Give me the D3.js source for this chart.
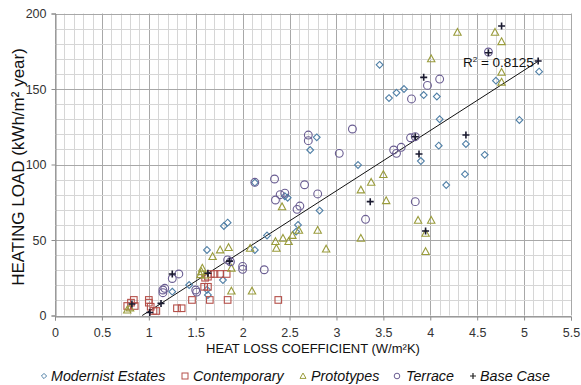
<!DOCTYPE html>
<html><head><meta charset="utf-8">
<script src="https://cdn.jsdelivr.net/npm/d3@7"></script>
<style>body{margin:0;background:#fff}svg{display:block}text{font-family:"Liberation Sans",Arial,sans-serif}</style>
</head><body><svg id="c" width="581" height="385"></svg>
<script>
const xTicks=[0,0.5,1,1.5,2,2.5,3,3.5,4,4.5,5,5.5];
const yTicks=[0,50,100,150,200];
const modernist=[[1.25,15.8],[1.43,20.2],[1.62,43.4],[1.63,13.6],[1.62,17],[1.79,23.5],[1.80,59.3],[1.84,61.5],[2.13,43.4],[2.13,88],[2.26,53],[2.45,79],[2.48,78],[2.57,55.5],[2.59,60],[2.82,69.5],[2.72,109.6],[2.79,118],[3.23,99.7],[3.46,166],[3.56,144],[3.64,147.5],[3.72,150],[3.90,102.3],[3.93,146],[4.07,145],[4.09,112.5],[4.10,130],[4.17,86.4],[4.37,93.6],[4.38,113.6],[4.58,106.4],[4.70,155.5],[4.95,129.5],[5.16,161.5]];
const contemporary=[[0.77,6.3],[0.81,8.5],[0.84,10.3],[0.85,6.3],[1.00,10.3],[1.00,8.5],[1.02,5.8],[1.05,3],[1.08,3],[1.30,4.8],[1.35,4.8],[1.46,10.3],[1.59,19],[1.63,19],[1.63,25.7],[1.65,10.3],[1.70,27.5],[1.76,27.5],[1.83,27.5],[1.84,10.3],[2.38,10.3],[1.60,25],[1.66,27.5]];
const prototypes=[[0.77,3.6],[0.80,5],[1.56,29],[1.57,31.3],[1.60,26.8],[1.55,27],[1.68,39],[1.76,43.4],[1.85,45],[1.88,31.3],[1.88,16.2],[2.08,44.5],[2.10,16.2],[2.35,48.9],[2.36,44.5],[2.43,51.1],[2.42,72],[2.49,48.9],[2.53,53],[2.60,56.4],[2.80,56.4],[2.89,44],[3.26,51.1],[3.26,83.1],[3.37,88.2],[3.50,93.3],[3.53,76],[3.87,63],[3.95,54.4],[3.95,42.3],[4.01,63],[4.01,170],[4.29,187.5],[4.69,187.5],[4.76,181.3],[4.76,161],[4.76,154.5]];
const terrace=[[1.15,16.9],[1.15,15.1],[1.17,18],[1.25,24.5],[1.32,27.5],[1.50,16.9],[1.51,15.5],[1.84,36.8],[1.87,35.6],[2.00,32.5],[2.00,30.6],[2.23,30.3],[2.34,90.4],[2.35,76.5],[2.40,80],[2.45,81],[2.58,70.3],[2.61,72.5],[2.66,86.6],[2.70,119.5],[2.70,115.8],[2.80,80.5],[3.03,107.4],[3.17,123.5],[3.31,63.7],[3.61,109.6],[3.64,107.4],[3.69,111.4],[3.79,117.7],[3.84,118.4],[3.80,143.4],[3.84,75.4],[3.97,152.4],[4.10,156.6],[4.62,174.5],[2.13,88.2]];
const baseCase=[[0.82,7.6],[1.01,2],[1.13,8],[1.25,27.5],[1.63,28],[1.86,36],[3.36,75.4],[3.88,107],[3.84,118.4],[3.93,157.7],[3.95,56],[4.38,119.5],[4.62,174],[4.76,191.7],[5.15,168.5]];
const trend={slope:39.9,intercept:-37.1,xMax:5.16,r2:"0.8125"};
const legendNames=["Modernist Estates","Contemporary","Prototypes","Terrace","Base Case"];

const svg=d3.select("#c");
const L=55,R=571,T=13.5,B=315.5;
const x=d3.scaleLinear().domain([0,5.5]).range([L,R]);
const y=d3.scaleLinear().domain([0,200]).range([B,T]);
const g=svg.append("g");
g.selectAll(".vx").data(d3.range(0,56).map(i=>i/10)).join("line")
 .attr("x1",d=>Math.round(x(d))+0.5).attr("x2",d=>Math.round(x(d))+0.5).attr("y1",T).attr("y2",B)
 .attr("stroke",(d,i)=>i%5===0?"#a8a8a8":"#d6d6d6").attr("stroke-width",1);
g.selectAll(".hy").data(d3.range(0,21).map(i=>i*10)).join("line")
 .attr("y1",d=>Math.round(y(d))+0.5).attr("y2",d=>Math.round(y(d))+0.5).attr("x1",L).attr("x2",R)
 .attr("stroke",(d,i)=>i%5===0?"#a8a8a8":"#d6d6d6").attr("stroke-width",1);
const xa=svg.append("g").attr("transform",`translate(0,${Math.round(B)+0.5})`)
 .call(d3.axisBottom(x).tickValues(xTicks).tickSize(4).tickFormat(d=>d));
const ya=svg.append("g").attr("transform",`translate(${L+0.5},0)`)
 .call(d3.axisLeft(y).tickValues(yTicks).tickSize(4).tickFormat(d=>d));
[xa,ya].forEach(a=>{a.select(".domain").attr("stroke","#8c8c8c");a.selectAll(".tick line").attr("stroke","#8c8c8c");
 a.selectAll("text").attr("font-size","12.5px").attr("fill","#333").attr("font-family","Liberation Sans,Arial,sans-serif");});
xa.selectAll("text").attr("dy","1.1em");
ya.selectAll("text").attr("dx","-2");
const x0=-trend.intercept/trend.slope;
svg.append("line").attr("x1",x(x0)).attr("y1",y(0)).attr("x2",x(trend.xMax)).attr("y2",y(trend.slope*trend.xMax+trend.intercept))
 .attr("stroke","#111").attr("stroke-width",1);
const S=3.4;
function diamond(sel,c){sel.append("path").attr("d",`M0,${-S}L${S},0L0,${S}L${-S},0Z`).attr("fill","none").attr("stroke",c).attr("stroke-width",1.1);}
function square(sel,c){sel.append("rect").attr("x",-3.3).attr("y",-3.3).attr("width",6.6).attr("height",6.6).attr("fill","none").attr("stroke",c).attr("stroke-width",1.1);}
function tri(sel,c){sel.append("path").attr("d","M0,-3.9L3.7,2.9L-3.7,2.9Z").attr("fill","none").attr("stroke",c).attr("stroke-width",1.1);}
function circ(sel,c){sel.append("circle").attr("r",3.9).attr("fill","none").attr("stroke",c).attr("stroke-width",1.1);}
function plus(sel,c){sel.append("path").attr("d","M-3.5,0H3.5M0,-3.5V3.5").attr("stroke",c).attr("stroke-width",1.6);}
const series=[[modernist,diamond,"#4f7fa6"],[contemporary,square,"#b5504a"],[prototypes,tri,"#9a9c3c"],[terrace,circ,"#6a5d92"],[baseCase,plus,"#1a1a30"]];
series.forEach(([data,fn,c])=>{
  svg.append("g").selectAll("g").data(data).join("g").attr("transform",d=>`translate(${x(d[0])},${y(d[1])})`).each(function(){fn(d3.select(this),c);});
});
const rl=svg.append("text").attr("x",463).attr("y",67).attr("font-size","13.5px").attr("fill","#111");
rl.append("tspan").text("R");rl.append("tspan").text("2").attr("font-size","8px").attr("dy","-5");
rl.append("tspan").text(" = "+trend.r2).attr("dy","5");
svg.append("text").attr("transform","translate(24,167) rotate(-90)").attr("text-anchor","middle").attr("font-size","17px").attr("fill","#111").text("HEATING LOAD (kWh/m² year)");
svg.append("text").attr("x",313).attr("y",353).attr("text-anchor","middle").attr("font-size","13px").attr("fill","#111").text("HEAT LOSS COEFFICIENT (W/m²K)");
const lx=[[44,51],[185,193],[303,311],[397,406],[473,480]];
legendNames.forEach((n,i)=>{
  const gg=svg.append("g").attr("transform",`translate(${lx[i][0]},376)`);
  const c=series[i][2];
  if(i===0)gg.append("path").attr("d","M0,-2.6L2.6,0L0,2.6L-2.6,0Z").attr("fill","none").attr("stroke",c);
  if(i===1)gg.append("rect").attr("x",-3).attr("y",-3).attr("width",6).attr("height",6).attr("fill","none").attr("stroke",c);
  if(i===2)gg.append("path").attr("d","M0,-3L3,2.4L-3,2.4Z").attr("fill","none").attr("stroke",c);
  if(i===3)gg.append("circle").attr("r",2.8).attr("fill","none").attr("stroke",c);
  if(i===4)gg.append("path").attr("d","M-3,0H3M0,-3V3").attr("stroke","#222").attr("stroke-width",1.2);
  svg.append("text").attr("x",lx[i][1]).attr("y",381).attr("font-size","14.3px").attr("font-style","italic").attr("fill","#111").text(n);
});
</script></body></html>
